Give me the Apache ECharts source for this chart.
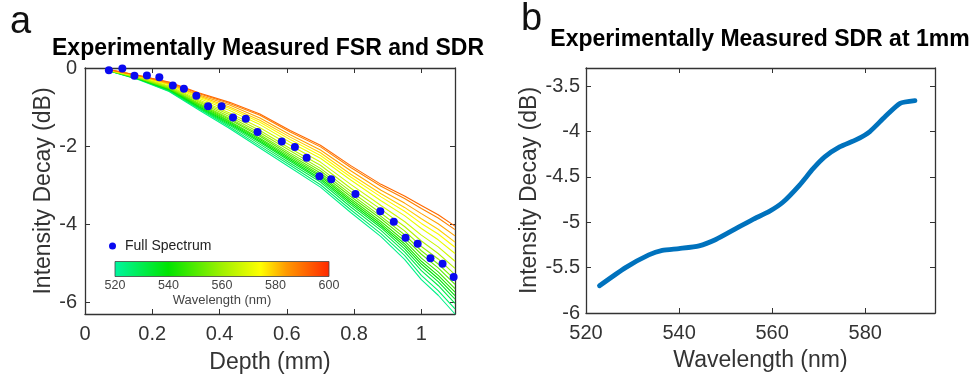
<!DOCTYPE html>
<html>
<head>
<meta charset="utf-8">
<script src="https://cdn.jsdelivr.net/npm/echarts@6/dist/echarts.min.js"></script>
<style>
html,body{margin:0;padding:0;background:#fff;}
#chart{width:972px;height:379px;}
</style>
</head>
<body>
<div id="chart"></div>
<script>
// ---------------- Panel a: per-wavelength decay curves ----------------
const depthMm = [0.07, 0.16, 0.25, 0.34, 0.43, 0.52, 0.61, 0.70, 0.79, 0.88, 0.95, 1.00, 1.05, 1.10];
const wavelengthsNm = [523, 527, 531, 535, 539, 543, 547, 551, 555, 559, 563, 567, 571, 575, 579, 583, 587, 591];
const decay523 = [-0.07,-0.30,-0.60,-1.08,-1.55,-2.05,-2.55,-3.05,-3.70,-4.32,-4.90,-5.42,-5.82,-6.30];
const decay527 = [-0.07,-0.29,-0.59,-1.05,-1.51,-2.00,-2.49,-2.99,-3.63,-4.24,-4.80,-5.31,-5.70,-6.17];
const decay531 = [-0.07,-0.29,-0.57,-1.03,-1.47,-1.95,-2.44,-2.92,-3.56,-4.16,-4.71,-5.19,-5.57,-6.03];
const decay535 = [-0.06,-0.28,-0.56,-1.01,-1.44,-1.90,-2.39,-2.87,-3.50,-4.09,-4.63,-5.10,-5.47,-5.92];
const decay539 = [-0.06,-0.28,-0.55,-0.99,-1.41,-1.87,-2.35,-2.83,-3.45,-4.04,-4.56,-5.02,-5.39,-5.83];
const decay543 = [-0.06,-0.27,-0.54,-0.97,-1.38,-1.83,-2.31,-2.78,-3.40,-3.99,-4.50,-4.95,-5.31,-5.74];
const decay547 = [-0.06,-0.27,-0.53,-0.95,-1.36,-1.80,-2.27,-2.74,-3.35,-3.93,-4.43,-4.87,-5.22,-5.65];
const decay551 = [-0.06,-0.26,-0.52,-0.93,-1.32,-1.75,-2.23,-2.69,-3.29,-3.86,-4.35,-4.77,-5.12,-5.54];
const decay555 = [-0.06,-0.26,-0.51,-0.91,-1.29,-1.71,-2.18,-2.63,-3.23,-3.80,-4.27,-4.68,-5.02,-5.42];
const decay559 = [-0.06,-0.25,-0.49,-0.88,-1.25,-1.66,-2.12,-2.57,-3.16,-3.72,-4.17,-4.57,-4.89,-5.29];
const decay563 = [-0.05,-0.24,-0.48,-0.85,-1.20,-1.60,-2.06,-2.49,-3.08,-3.62,-4.06,-4.43,-4.75,-5.13];
const decay567 = [-0.05,-0.23,-0.46,-0.82,-1.15,-1.53,-1.98,-2.41,-2.98,-3.52,-3.93,-4.28,-4.58,-4.95];
const decay571 = [-0.05,-0.22,-0.43,-0.78,-1.09,-1.45,-1.90,-2.31,-2.87,-3.40,-3.78,-4.11,-4.40,-4.75];
const decay575 = [-0.05,-0.22,-0.42,-0.75,-1.04,-1.39,-1.83,-2.24,-2.79,-3.30,-3.67,-3.98,-4.25,-4.59];
const decay579 = [-0.05,-0.21,-0.40,-0.72,-1.00,-1.34,-1.77,-2.17,-2.72,-3.22,-3.57,-3.86,-4.13,-4.46];
const decay583 = [-0.04,-0.20,-0.39,-0.69,-0.95,-1.28,-1.71,-2.10,-2.63,-3.13,-3.46,-3.73,-3.99,-4.30];
const decay587 = [-0.04,-0.19,-0.37,-0.66,-0.91,-1.21,-1.64,-2.02,-2.55,-3.03,-3.34,-3.60,-3.84,-4.14];
const decay591 = [-0.04,-0.19,-0.36,-0.64,-0.88,-1.18,-1.60,-1.98,-2.50,-2.98,-3.28,-3.52,-3.76,-4.05];
const decayCurves = [decay523, decay527, decay531, decay535, decay539, decay543, decay547, decay551, decay555,
  decay559, decay563, decay567, decay571, decay575, decay579, decay583, decay587, decay591];

// Full spectrum points
const fullDepth = [0.071,0.111,0.147,0.184,0.221,0.261,0.294,0.331,0.366,0.406,0.440,0.478,0.513,0.585,0.624,0.659,0.697,0.732,0.804,0.878,0.918,0.953,0.989,1.027,1.063,1.096];
const fullDecay = [-0.06,-0.01,-0.20,-0.19,-0.24,-0.45,-0.53,-0.71,-0.98,-0.98,-1.27,-1.30,-1.64,-1.88,-2.02,-2.30,-2.77,-2.85,-3.23,-3.67,-3.94,-4.35,-4.50,-4.87,-5.01,-5.35];

// Axis ticks
const depthTicks = [0, 0.2, 0.4, 0.6, 0.8, 1];
const decayTicksA = [-6, -4, -2, 0];
const colorbarTicks = [520, 540, 560, 580, 600];

// ---------------- Panel b ----------------
const sdrWavelength = [522.9,528.5,533.5,536.4,540.0,544.3,547.9,552.2,555.8,559.4,562.3,565.9,568.8,571.3,574.5,578.1,581.0,584.2,587.5,590.7];
const sdrDecay = [-5.70,-5.50,-5.36,-5.31,-5.29,-5.26,-5.19,-5.07,-4.97,-4.88,-4.78,-4.59,-4.41,-4.28,-4.17,-4.09,-4.00,-3.84,-3.69,-3.66];
const wavelengthTicksB = [520, 540, 560, 580];
const decayTicksB = [-6, -5.5, -5, -4.5, -4, -3.5];

// ---------------- styling ----------------
const FONT = 'Liberation Sans, Arial, Helvetica, sans-serif';
const AX = '#333333';
const cmapStops = [[0, [0, 245, 160]], [0.25, [0, 228, 0]], [0.5, [160, 240, 0]], [0.68, [255, 255, 0]], [0.8, [255, 153, 0]], [1, [255, 40, 0]]];
function cmap(w) {
  const t = Math.max(0, Math.min(1, (w - 520) / 80));
  for (let i = 1; i < cmapStops.length; i++) {
    if (t <= cmapStops[i][0]) {
      const a = cmapStops[i - 1], b = cmapStops[i];
      const u = (t - a[0]) / (b[0] - a[0]);
      const c = a[1].map((v, k) => Math.round(v + (b[1][k] - v) * u));
      return 'rgb(' + c.join(',') + ')';
    }
  }
  return 'rgb(255,40,0)';
}

function boxAxis(base, extra) {
  return Object.assign({
    type: 'value',
    axisLine: { show: true, onZero: false, lineStyle: { color: AX, width: 1.3 } },
    splitLine: { show: false },
  }, base, extra);
}

const grids = [
  { left: 85, top: 68, width: 370, height: 249 },
  { left: 586, top: 68, width: 349, height: 245 },
  { left: 115, top: 261.5, width: 214, height: 15, show: true, borderColor: '#444', borderWidth: 0.8,
    backgroundColor: new echarts.graphic.LinearGradient(0, 0, 1, 0,
      cmapStops.map(s => ({ offset: s[0], color: 'rgb(' + s[1].join(',') + ')' }))) }
];

const labelStyle = { fontSize: 20, color: AX, fontFamily: FONT };
const nameStyle = { fontSize: 23, color: AX, fontFamily: FONT };

const xAxes = [
  boxAxis({ gridIndex: 0, min: 0, max: 1.1, position: 'bottom' }, {
    axisTick: { inside: true, length: 5, customValues: depthTicks, lineStyle: { color: AX } },
    axisLabel: Object.assign({ customValues: depthTicks, margin: 10 }, labelStyle),
    name: 'Depth (mm)', nameLocation: 'middle', nameGap: 37, nameTextStyle: nameStyle
  }),
  boxAxis({ gridIndex: 0, min: 0, max: 1.1, position: 'top' }, {
    axisTick: { inside: true, length: 5, customValues: depthTicks, lineStyle: { color: AX } },
    axisLabel: { show: false }
  }),
  boxAxis({ gridIndex: 1, min: 520, max: 595, position: 'bottom' }, {
    axisTick: { inside: true, length: 5, customValues: wavelengthTicksB, lineStyle: { color: AX } },
    axisLabel: Object.assign({ customValues: wavelengthTicksB, margin: 10 }, labelStyle),
    name: 'Wavelength (nm)', nameLocation: 'middle', nameGap: 36, nameTextStyle: nameStyle
  }),
  boxAxis({ gridIndex: 1, min: 520, max: 595, position: 'top' }, {
    axisTick: { inside: true, length: 5, customValues: wavelengthTicksB, lineStyle: { color: AX } },
    axisLabel: { show: false }
  }),
  {
    type: 'value', gridIndex: 2, min: 520, max: 600, position: 'bottom',
    axisLine: { show: false }, axisTick: { show: false }, splitLine: { show: false },
    axisLabel: { customValues: colorbarTicks, margin: 3, fontSize: 12.5, color: '#444', fontFamily: FONT },
    name: 'Wavelength (nm)', nameLocation: 'middle', nameGap: 17,
    nameTextStyle: { fontSize: 13, color: '#444', fontFamily: FONT }
  }
];

const yAxes = [
  boxAxis({ gridIndex: 0, min: -6.3, max: 0, position: 'left' }, {
    axisTick: { inside: true, length: 5, customValues: decayTicksA, lineStyle: { color: AX } },
    axisLabel: Object.assign({ customValues: decayTicksA, margin: 8 }, labelStyle),
    name: 'Intensity Decay (dB)', nameLocation: 'middle', nameGap: 30, nameTextStyle: nameStyle
  }),
  boxAxis({ gridIndex: 0, min: -6.3, max: 0, position: 'right' }, {
    axisTick: { inside: true, length: 5, customValues: decayTicksA, lineStyle: { color: AX } },
    axisLabel: { show: false }
  }),
  boxAxis({ gridIndex: 1, min: -6, max: -3.3, position: 'left' }, {
    axisTick: { inside: true, length: 5, customValues: decayTicksB, lineStyle: { color: AX } },
    axisLabel: Object.assign({ customValues: decayTicksB, margin: 6 }, labelStyle),
    name: 'Intensity Decay (dB)', nameLocation: 'middle', nameGap: 45, nameTextStyle: nameStyle
  }),
  boxAxis({ gridIndex: 1, min: -6, max: -3.3, position: 'right' }, {
    axisTick: { inside: true, length: 5, customValues: decayTicksB, lineStyle: { color: AX } },
    axisLabel: { show: false }
  }),
  { type: 'value', gridIndex: 2, min: 0, max: 1, show: false }
];

const series = [];
wavelengthsNm.forEach((w, i) => {
  series.push({
    type: 'line', xAxisIndex: 0, yAxisIndex: 0, silent: true, showSymbol: false,
    data: depthMm.map((d, j) => [d, decayCurves[i][j]]),
    lineStyle: { color: cmap(w), width: 1.1 }, z: 2
  });
});
series.push({
  name: 'Full Spectrum', type: 'scatter', xAxisIndex: 0, yAxisIndex: 0,
  data: fullDepth.map((d, j) => [d, fullDecay[j]]),
  symbolSize: 8, itemStyle: { color: '#0a0af0', opacity: 1 }, z: 5, clip: false
});
series.push({
  type: 'line', xAxisIndex: 2, yAxisIndex: 2, showSymbol: false, silent: true,
  data: sdrWavelength.map((w, j) => [w, sdrDecay[j]]),
  lineStyle: { color: '#0072BD', width: 4.8, cap: 'round', join: 'round' }, smooth: 0.2
});

const option = {
  animation: false,
  backgroundColor: '#ffffff',
  textStyle: { fontFamily: FONT },
  title: [
    { text: 'a', left: 10, top: 4, padding: 0, textStyle: { fontSize: 38, fontWeight: 'normal', color: '#111', fontFamily: FONT } },
    { text: 'b', left: 521, top: 1, padding: 0, textStyle: { fontSize: 38, fontWeight: 'normal', color: '#111', fontFamily: FONT } },
    { text: 'Experimentally Measured FSR and SDR', left: 268, textAlign: 'center', top: 37, padding: 0,
      textStyle: { fontSize: 23, fontWeight: 'bold', color: '#000', fontFamily: FONT } },
    { text: 'Experimentally Measured SDR at 1mm', left: 760, textAlign: 'center', top: 28, padding: 0,
      textStyle: { fontSize: 23, fontWeight: 'bold', color: '#000', fontFamily: FONT } }
  ],
  legend: {
    data: ['Full Spectrum'], left: 109, top: 239, padding: 0, icon: 'circle',
    itemWidth: 15, itemHeight: 7, selectedMode: false,
    itemStyle: { opacity: 1 },
    textStyle: { fontSize: 14, color: '#222', fontFamily: FONT }
  },
  grid: grids,
  xAxis: xAxes,
  yAxis: yAxes,
  series: series
};

const chart = echarts.init(document.getElementById('chart'), null, { renderer: 'canvas' });
chart.setOption(option);
</script>
</body>
</html>
